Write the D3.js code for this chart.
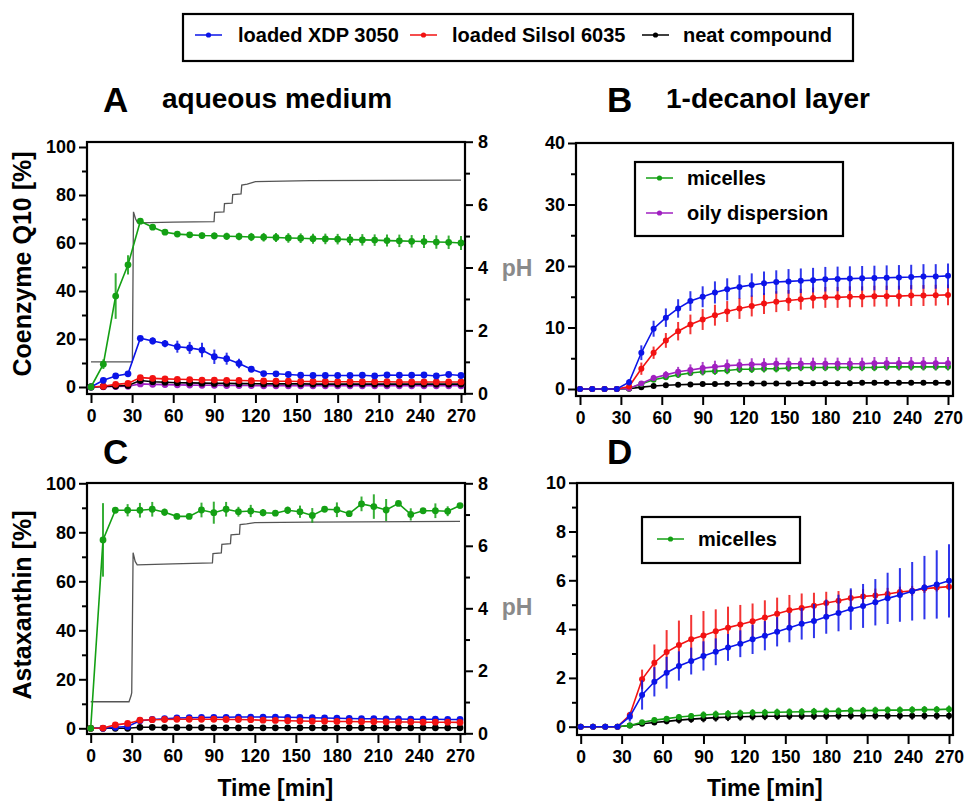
<!DOCTYPE html>
<html>
<head>
<meta charset="utf-8">
<script src="https://cdn.jsdelivr.net/npm/d3@7"></script>
<style>
body { margin: 0; background: #fff; }
text { font-family: "Liberation Sans", Arial, sans-serif; font-weight: bold; }
</style>
</head>
<body>
<div id="chart"></div>
<script>
// sampling times [min]
var time = [0, 9, 18, 27, 36, 45, 54, 63, 72, 81, 90, 99, 108, 117, 126, 135, 144, 153, 162, 171, 180, 189, 198, 207, 216, 225, 234, 243, 252, 261, 270];
var xTicks = [0, 30, 60, 90, 120, 150, 180, 210, 240, 270];

// A: coenzyme Q10, aqueous medium
var aGreen = [0, 9.5, 37.9, 50.9, 69.1, 66.6, 64.5, 63.7, 63.4, 63.1, 63.0, 62.8, 62.7, 62.5, 62.4, 62.3, 62.1, 62.0, 61.8, 61.7, 61.6, 61.4, 61.3, 61.2, 61.0, 60.9, 60.7, 60.6, 60.4, 60.3, 60.0];
var aGreenSd = [0, 2, 9.5, 4, 1, 1, 1, 1, 1.2, 1.3, 1.4, 1.5, 1.6, 1.7, 1.8, 1.9, 2, 2, 2.1, 2.2, 2.2, 2.3, 2.4, 2.4, 2.5, 2.6, 2.6, 2.7, 2.8, 2.8, 2.9];
var aBlue = [0, 2.8, 4.6, 5.5, 20.3, 19.2, 18.1, 16.8, 16.3, 15.4, 12.6, 11.8, 9.8, 7.4, 5.6, 5.5, 5.2, 4.9, 4.8, 4.8, 4.8, 4.8, 4.9, 4.6, 5.0, 4.9, 4.9, 5.0, 4.6, 5.2, 4.8];
var aBlueSd = [0, 0.6, 0.6, 0.6, 0.8, 1.5, 1.5, 2.5, 2.5, 3, 3, 2.5, 2, 1, 0.6, 0.5, 0.5, 0.5, 0.5, 0.5, 0.5, 0.5, 0.5, 0.5, 0.5, 0.5, 0.5, 0.5, 0.5, 0.5, 0.5];
var aRed = [0, 0.3, 1.1, 1.5, 3.9, 3.6, 3.4, 3.2, 3.1, 2.9, 2.9, 2.8, 2.7, 2.6, 2.5, 2.4, 2.4, 2.3, 2.3, 2.3, 2.2, 2.2, 2.2, 2.2, 2.2, 2.1, 2.1, 2.1, 2.1, 2.1, 2.1];
var aBlack = [0, 0.2, 0.4, 0.6, 2.7, 2.2, 2.0, 1.8, 1.7, 1.6, 1.5, 1.5, 1.4, 1.4, 1.3, 1.3, 1.3, 1.3, 1.2, 1.2, 1.2, 1.2, 1.2, 1.2, 1.2, 1.2, 1.2, 1.2, 1.2, 1.2, 1.2];
var aPurple = [0, 0.1, 0.2, 0.3, 1.3, 1.1, 1.0, 0.9, 0.8, 0.7, 0.7, 0.6, 0.6, 0.6, 0.5, 0.5, 0.5, 0.5, 0.5, 0.5, 0.5, 0.5, 0.5, 0.5, 0.5, 0.5, 0.5, 0.5, 0.5, 0.5, 0.5];
var phATime = [0, 30.2, 31, 32.5, 34, 60, 89.8, 90.2, 97, 97.4, 103, 103.4, 109.5, 110, 114, 120, 160, 270];
var phA = [1.0, 1.0, 5.77, 5.55, 5.42, 5.44, 5.46, 5.75, 5.77, 6.03, 6.05, 6.32, 6.34, 6.62, 6.65, 6.73, 6.76, 6.78];

// B: coenzyme Q10, 1-decanol layer
var bBlue = [0, 0, 0, 0, 1.1, 5.9, 9.8, 11.6, 13.1, 14.3, 15.0, 15.7, 16.2, 16.6, 16.9, 17.2, 17.4, 17.5, 17.6, 17.7, 17.85, 17.9, 17.95, 18.0, 18.05, 18.1, 18.15, 18.2, 18.3, 18.3, 18.4];
var bBlueSd = [0, 0, 0, 0, 0.5, 1.2, 1.3, 1.5, 1.5, 1.6, 1.7, 1.8, 1.8, 1.9, 1.9, 1.9, 1.9, 2, 2, 2, 2, 2, 2, 2, 2, 2, 2, 2, 2, 2, 2];
var bRed = [0, 0, 0, 0, 0.4, 3.3, 5.9, 7.9, 9.4, 10.5, 11.3, 12.0, 12.6, 13.1, 13.5, 13.9, 14.2, 14.4, 14.6, 14.8, 14.9, 14.9, 15.0, 15.0, 15.1, 15.1, 15.1, 15.2, 15.2, 15.25, 15.3];
var bRedSd = [0, 0, 0, 0, 0.3, 1, 1, 1.2, 1.5, 1.6, 1.7, 1.7, 1.7, 1.7, 1.7, 1.7, 1.7, 1.7, 1.7, 1.7, 1.7, 1.7, 1.7, 1.7, 1.7, 1.7, 1.7, 1.7, 1.7, 1.7, 1.7];
var bPurple = [0, 0, 0, 0, 0.1, 0.9, 1.8, 2.3, 2.8, 3.1, 3.4, 3.6, 3.8, 3.9, 4.0, 4.0, 4.1, 4.1, 4.1, 4.1, 4.1, 4.1, 4.1, 4.1, 4.2, 4.2, 4.2, 4.2, 4.2, 4.2, 4.2];
var bPurpleSd = [0, 0, 0, 0, 0.1, 0.3, 0.5, 0.6, 0.8, 0.9, 1, 1, 1, 1, 1, 1, 1, 1, 1, 1, 1, 1, 1, 1, 1, 1, 1, 1, 1, 1, 1];
var bGreen = [0, 0, 0, 0, 0.1, 0.8, 1.5, 1.9, 2.3, 2.6, 2.8, 2.9, 3.0, 3.2, 3.2, 3.3, 3.3, 3.4, 3.5, 3.5, 3.5, 3.5, 3.5, 3.5, 3.5, 3.6, 3.6, 3.6, 3.6, 3.6, 3.6];
var bGreenSd = [0, 0, 0, 0, 0.1, 0.2, 0.3, 0.4, 0.5, 0.5, 0.6, 0.6, 0.6, 0.6, 0.6, 0.6, 0.6, 0.6, 0.6, 0.6, 0.6, 0.6, 0.6, 0.6, 0.6, 0.6, 0.6, 0.6, 0.6, 0.6, 0.6];
var bBlack = [0, 0, 0, 0, 0.05, 0.3, 0.5, 0.6, 0.7, 0.75, 0.8, 0.8, 0.85, 0.85, 0.9, 0.9, 0.9, 0.9, 0.95, 0.95, 0.95, 0.95, 0.95, 1.0, 1.0, 1.0, 1.0, 1.0, 1.0, 1.0, 1.0];

// C: astaxanthin, aqueous medium
var cGreen = [0, 76.9, 89.0, 89.0, 89.0, 89.4, 88.2, 86.5, 86.5, 89.1, 88.0, 89.4, 88.4, 88.7, 88.0, 87.8, 89.0, 88.4, 86.9, 89.4, 89.2, 87.6, 91.6, 90.5, 89.1, 91.8, 87.3, 88.8, 88.8, 88.6, 90.9];
var cGreenSd = [0, 15, 1, 2.5, 3, 3, 1.5, 0.8, 0.8, 3, 4.5, 3, 2, 2.5, 1.5, 0.8, 1.5, 2.5, 3, 1, 3, 1, 3, 5, 4.5, 1, 2.5, 1, 3, 2, 1];
var cBlue = [0, 0, 0.4, 0.7, 3.1, 3.6, 3.9, 4.2, 4.3, 4.4, 4.5, 4.5, 4.6, 4.6, 4.6, 4.6, 4.5, 4.4, 4.3, 4.2, 4.1, 4.0, 3.9, 3.9, 3.8, 3.8, 3.7, 3.7, 3.7, 3.6, 3.6];
var cRed = [0, 0.1, 1.4, 2.0, 3.3, 3.5, 3.6, 3.7, 3.7, 3.7, 3.7, 3.6, 3.6, 3.5, 3.3, 3.2, 3.1, 3.0, 2.9, 2.9, 2.8, 2.8, 2.7, 2.7, 2.6, 2.6, 2.6, 2.5, 2.5, 2.5, 2.4];
var cBlack = [0, 0, 0, 0, 0.4, 0.4, 0.3, 0.3, 0.3, 0.3, 0.2, 0.2, 0.2, 0.2, 0.2, 0.2, 0.2, 0.2, 0.2, 0.2, 0.2, 0.2, 0.2, 0.2, 0.2, 0.2, 0.2, 0.2, 0.2, 0.2, 0.2];
var phCTime = [0, 28, 29.5, 30, 31, 32.5, 34, 60, 89, 89.4, 95.5, 95.9, 102.2, 102.6, 108.8, 109.2, 114, 120, 160, 270];
var phC = [1.01, 1.01, 1.2, 1.3, 5.78, 5.5, 5.39, 5.42, 5.45, 5.75, 5.77, 6.05, 6.07, 6.35, 6.37, 6.68, 6.70, 6.74, 6.76, 6.78];

// D: astaxanthin, 1-decanol layer
var dRed = [0, 0, 0, 0, 0.48, 1.94, 2.62, 3.06, 3.35, 3.58, 3.74, 3.91, 4.06, 4.19, 4.32, 4.48, 4.63, 4.77, 4.86, 4.96, 5.07, 5.16, 5.27, 5.34, 5.38, 5.44, 5.52, 5.57, 5.66, 5.70, 5.74];
var dRedSd = [0, 0, 0, 0, 0.1, 0.4, 0.75, 0.9, 1.0, 1.0, 1.0, 0.9, 0.86, 0.8, 0.73, 0.7, 0.66, 0.63, 0.6, 0.53, 0.46, 0.4, 0.33, 0.3, 0.28, 0.25, 0.22, 0.2, 0.18, 0.16, 0.15];
var dBlue = [0, 0, 0, 0, 0.41, 1.30, 1.84, 2.21, 2.49, 2.69, 2.90, 3.07, 3.25, 3.40, 3.58, 3.73, 3.89, 4.06, 4.22, 4.33, 4.51, 4.66, 4.82, 4.95, 5.10, 5.26, 5.40, 5.55, 5.70, 5.83, 5.98];
var dBlueSd = [0, 0, 0, 0, 0.2, 0.6, 0.6, 0.65, 0.6, 0.55, 0.6, 0.55, 0.55, 0.55, 0.6, 0.6, 0.6, 0.6, 0.65, 0.7, 0.7, 0.75, 0.85, 0.9, 0.95, 1.05, 1.1, 1.2, 1.3, 1.4, 1.5];
var dGreen = [0, 0, 0, 0, 0.05, 0.18, 0.27, 0.33, 0.40, 0.44, 0.48, 0.51, 0.53, 0.55, 0.57, 0.58, 0.59, 0.60, 0.61, 0.62, 0.63, 0.64, 0.66, 0.66, 0.67, 0.68, 0.68, 0.69, 0.70, 0.70, 0.72];
var dGreenSd = [0, 0, 0, 0, 0.05, 0.08, 0.1, 0.1, 0.12, 0.12, 0.15, 0.15, 0.15, 0.15, 0.15, 0.15, 0.15, 0.15, 0.15, 0.15, 0.15, 0.15, 0.15, 0.15, 0.15, 0.15, 0.15, 0.15, 0.15, 0.15, 0.15];
var dBlack = [0, 0, 0, 0, 0.05, 0.12, 0.17, 0.22, 0.27, 0.31, 0.34, 0.37, 0.39, 0.41, 0.42, 0.43, 0.43, 0.44, 0.44, 0.44, 0.44, 0.45, 0.45, 0.45, 0.45, 0.45, 0.45, 0.45, 0.45, 0.45, 0.45];
var dBlackSd = [0, 0, 0, 0, 0.05, 0.08, 0.1, 0.12, 0.14, 0.15, 0.16, 0.16, 0.16, 0.16, 0.16, 0.16, 0.16, 0.16, 0.16, 0.16, 0.16, 0.16, 0.16, 0.16, 0.16, 0.16, 0.16, 0.16, 0.16, 0.16, 0.16];

var blue = "#0b14e8", red = "#f21212", green = "#14a014", purple = "#a020c0", black = "#000";

var svg = d3.select("#chart").append("svg")
    .attr("width", 964)
    .attr("height", 803);

function styleAxis(g, size) {
    g.select(".domain").remove();
    g.selectAll(".tick line").attr("stroke", "#000").attr("stroke-width", 2);
    g.selectAll(".tick text")
        .attr("fill", "#000")
        .style("font-size", size + "px")
        .style("font-family", "'Liberation Sans', Arial, sans-serif")
        .style("font-weight", "bold");
}

function drawPanel(p) {
    var x = d3.scaleLinear().domain([0, 270]).range([p.x0, p.x1]);
    var y = d3.scaleLinear().domain([0, p.yMax]).range([p.y0, p.y1]);
    var g = svg.append("g");

    g.append("rect")
        .attr("x", p.left).attr("y", p.top)
        .attr("width", p.right - p.left).attr("height", p.bottom - p.top)
        .attr("fill", "none").attr("stroke", "#000").attr("stroke-width", 2.2);

    g.append("g").attr("transform", "translate(0," + p.bottom + ")")
        .call(d3.axisBottom(x).tickValues(xTicks).tickSize(9).tickPadding(7))
        .call(styleAxis, 17.5);

    g.append("g").attr("transform", "translate(" + p.left + ",0)")
        .call(d3.axisLeft(y).tickValues(p.yMinor).tickSize(5).tickFormat(""))
        .call(styleAxis, 18);
    g.append("g").attr("transform", "translate(" + p.left + ",0)")
        .call(d3.axisLeft(y).tickValues(p.yMajor).tickSize(8).tickPadding(3))
        .call(styleAxis, 18);

    if (p.ph) {
        var yp = d3.scaleLinear().domain([0, 8]).range([p.ph.y0, p.ph.y1]);
        g.append("g").attr("transform", "translate(" + p.right + ",0)")
            .call(d3.axisRight(yp).tickValues([1, 3, 5, 7]).tickSize(5).tickFormat(""))
            .call(styleAxis, 18);
        g.append("g").attr("transform", "translate(" + p.right + ",0)")
            .call(d3.axisRight(yp).tickValues([0, 2, 4, 6, 8]).tickSize(8).tickPadding(5))
            .call(styleAxis, 18);

        var phLine = d3.line()
            .x(function(d, i) { return x(p.ph.t[i]); })
            .y(function(d) { return yp(d); });
        g.append("path").datum(p.ph.v)
            .attr("d", phLine)
            .attr("fill", "none").attr("stroke", "#555").attr("stroke-width", 1.3);

        g.append("text")
            .attr("x", 517).attr("y", p.ph.labelY)
            .attr("text-anchor", "middle")
            .attr("fill", "#8a8a8a")
            .style("font-size", "23px")
            .text("pH");
    }

    var line = d3.line()
        .x(function(d, i) { return x(time[i]); })
        .y(function(d) { return y(d); });

    p.series.forEach(function(s) {
        if (s.sd) {
            g.append("g").selectAll("line").data(s.v).enter().append("line")
                .attr("x1", function(d, i) { return x(time[i]); })
                .attr("x2", function(d, i) { return x(time[i]); })
                .attr("y1", function(d, i) { return y(d - s.sd[i]); })
                .attr("y2", function(d, i) { return y(d + s.sd[i]); })
                .attr("stroke", s.c).attr("stroke-width", 2).attr("opacity", 0.85);
        }
        g.append("path").datum(s.v)
            .attr("d", line)
            .attr("fill", "none").attr("stroke", s.c).attr("stroke-width", 1.6);
        g.append("g").selectAll("circle").data(s.v).enter().append("circle")
            .attr("cx", function(d, i) { return x(time[i]); })
            .attr("cy", function(d) { return y(d); })
            .attr("r", p.r)
            .attr("fill", s.c);
    });

    if (p.yTitle) {
        g.append("text")
            .attr("transform", "translate(31," + p.yTitle.y + ") rotate(-90)")
            .attr("text-anchor", "middle")
            .style("font-size", "25px")
            .text(p.yTitle.text);
    }
    if (p.xTitle) {
        g.append("text")
            .attr("x", (p.x0 + p.x1) / 2).attr("y", 796)
            .attr("text-anchor", "middle")
            .style("font-size", "23px")
            .text("Time [min]");
    }
    g.append("text").attr("x", p.letterX).attr("y", p.titleY + 4)
        .style("font-size", "35px").text(p.letter);
    g.append("text").attr("x", p.letterX + 59).attr("y", p.titleY)
        .style("font-size", "28px").text(p.title);
}

drawPanel({
    letter: "A", title: "aqueous medium", titleY: 108, letterX: 103,
    left: 87, right: 465, top: 142, bottom: 394,
    x0: 91, x1: 461, y0: 387, y1: 147, yMax: 100,
    yMajor: [0, 20, 40, 60, 80, 100], yMinor: [10, 30, 50, 70, 90],
    ph: { y0: 393.3, y1: 141.7, t: phATime, v: phA, labelY: 276 },
    yTitle: { y: 264, text: "Coenzyme Q10 [%]" },
    r: 3.4,
    series: [
        { v: aPurple, c: purple },
        { v: aBlack, c: black },
        { v: aRed, c: red },
        { v: aBlue, sd: aBlueSd, c: blue },
        { v: aGreen, sd: aGreenSd, c: green }
    ]
});

drawPanel({
    letter: "B", title: "1-decanol layer", titleY: 108, letterX: 607,
    left: 576, right: 953, top: 143, bottom: 396,
    x0: 580, x1: 948, y0: 389, y1: 143, yMax: 40,
    yMajor: [0, 10, 20, 30, 40], yMinor: [5, 15, 25, 35],
    r: 3,
    series: [
        { v: bBlack, c: black },
        { v: bGreen, sd: bGreenSd, c: green },
        { v: bPurple, sd: bPurpleSd, c: purple },
        { v: bRed, sd: bRedSd, c: red },
        { v: bBlue, sd: bBlueSd, c: blue }
    ]
});

drawPanel({
    letter: "C", title: "", titleY: 460, letterX: 103,
    left: 87, right: 465, top: 483, bottom: 734,
    x0: 90.7, x1: 460, y0: 728.3, y1: 483.3, yMax: 100,
    yMajor: [0, 20, 40, 60, 80, 100], yMinor: [10, 30, 50, 70, 90],
    ph: { y0: 733.3, y1: 483.3, t: phCTime, v: phC, labelY: 615 },
    yTitle: { y: 605, text: "Astaxanthin [%]" },
    xTitle: true,
    r: 3.4,
    series: [
        { v: cBlack, c: black },
        { v: cBlue, c: blue },
        { v: cRed, c: red },
        { v: cGreen, sd: cGreenSd, c: green }
    ]
});

drawPanel({
    letter: "D", title: "", titleY: 460, letterX: 607,
    left: 577, right: 953, top: 483, bottom: 735,
    x0: 580.7, x1: 949, y0: 726.7, y1: 482.7, yMax: 10,
    yMajor: [0, 2, 4, 6, 8, 10], yMinor: [1, 3, 5, 7, 9],
    xTitle: true,
    r: 3,
    series: [
        { v: dBlack, sd: dBlackSd, c: black },
        { v: dGreen, sd: dGreenSd, c: green },
        { v: dRed, sd: dRedSd, c: red },
        { v: dBlue, sd: dBlueSd, c: blue }
    ]
});

// legends
function legend(box, items) {
    var g = svg.append("g");
    g.append("rect").attr("x", box[0]).attr("y", box[1]).attr("width", box[2]).attr("height", box[3])
        .attr("fill", "#fff").attr("stroke", "#000").attr("stroke-width", 2.2);
    items.forEach(function(it) {
        g.append("line").attr("x1", it.lx).attr("x2", it.lx + 27).attr("y1", it.y).attr("y2", it.y)
            .attr("stroke", it.c).attr("stroke-width", 1.5);
        g.append("circle").attr("cx", it.lx + 13.5).attr("cy", it.y).attr("r", 2.6).attr("fill", it.c);
        g.append("text").attr("x", it.tx).attr("y", it.y + 7)
            .style("font-size", "20px").text(it.label);
    });
}

legend([183, 14, 670, 47], [
    { c: blue, lx: 195, tx: 238, y: 35, label: "loaded XDP 3050" },
    { c: red, lx: 410, tx: 452, y: 35, label: "loaded Silsol 6035" },
    { c: black, lx: 642, tx: 683, y: 35, label: "neat compound" }
]);
legend([635, 162, 208, 74], [
    { c: green, lx: 646, tx: 687, y: 178, label: "micelles" },
    { c: purple, lx: 646, tx: 687, y: 213, label: "oily dispersion" }
]);
legend([642, 517, 158, 46], [
    { c: green, lx: 657, tx: 698, y: 539, label: "micelles" }
]);
</script>
</body>
</html>
